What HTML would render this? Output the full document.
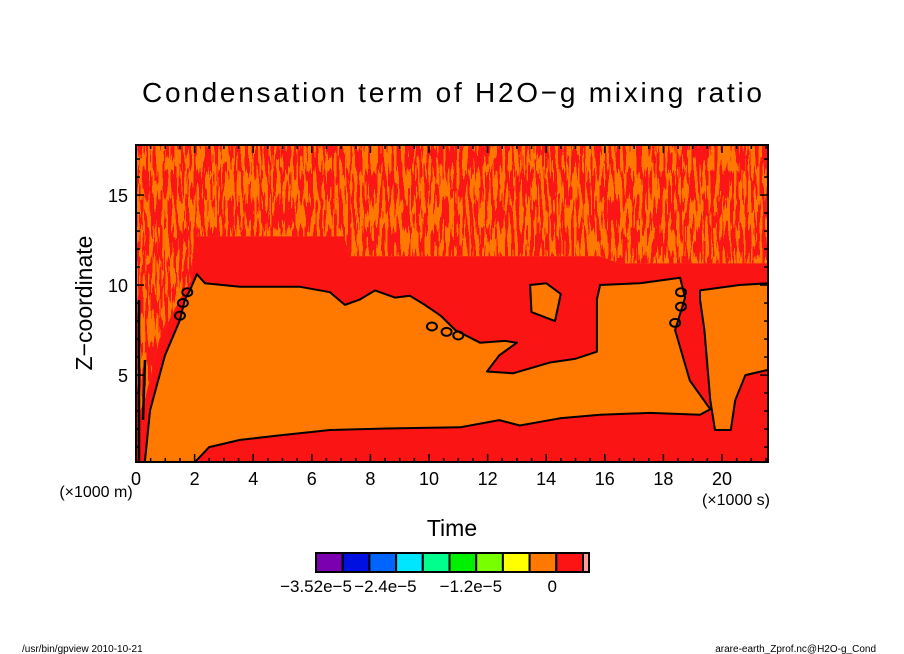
<!DOCTYPE html>
<html><head><meta charset="utf-8"><style>
html,body{margin:0;padding:0;background:#fff;}
svg{display:block;font-family:"Liberation Sans",sans-serif;}
</style></head><body>
<svg id="chart" width="904" height="654" viewBox="0 0 904 654">
<defs>
<filter id="noise" x="0" y="0" width="100%" height="100%">
<feTurbulence type="fractalNoise" baseFrequency="0.35 0.035" numOctaves="2" seed="7" result="t"/>
<feColorMatrix in="t" type="matrix" values="0 0 0 0 0  0 0 0 0 0  0 0 0 0 0  1.6 0 0 0 -0.3" result="a"/>
<feComponentTransfer in="a" result="d"><feFuncA type="discrete" tableValues="0 1"/></feComponentTransfer>
<feFlood flood-color="#fa1414" result="r"/>
<feComposite in="r" in2="d" operator="in"/>
</filter>
<clipPath id="plotclip"><rect x="136" y="145" width="632" height="317"/></clipPath>
</defs>
<text x="452" y="102" font-size="28" text-anchor="middle" textLength="620">Condensation term of H2O−g mixing ratio</text>
<g id="plot" clip-path="url(#plotclip)"></g>
<rect x="136" y="145" width="632" height="317" fill="none" stroke="#000" stroke-width="2"/>
<g id="axes"></g>
<text x="96" y="497" font-size="16" text-anchor="middle">(×1000 m)</text>
<text x="736" y="505" font-size="16" text-anchor="middle">(×1000 s)</text>
<text x="452" y="536" font-size="23" text-anchor="middle">Time</text>
<text x="0" y="0" font-size="23" text-anchor="middle" transform="translate(92,303) rotate(-90)">Z−coordinate</text>
<g id="colorbar"></g>
<text x="22" y="652" font-size="10">/usr/bin/gpview   2010-10-21</text>
<text x="876" y="652" font-size="10" text-anchor="end">arare-earth_Zprof.nc@H2O-g_Cond</text>
</svg>
<script>
const xTicks=[0,2,4,6,8,10,12,14,16,18,20];
const yTicks=[5,10,15];
const cbColors=["#7a00b0","#0010e0","#0064ff","#00e6ff","#00ff8c","#00f000","#78ff00","#ffff00","#ff7800","#fa1414","#ff9a9a"];
const cbLabels=["−3.52e−5","−2.4e−5","−1.2e−5","0"];
const cbLabelIdx=[0,2.6,5.8,8.85];
// contour regions in data units [time(x1000 s), z(x1000 m)]
const noiseRegion=[[0,17.8],[21.6,17.8],[21.6,11.2],[16.5,11.2],[15.8,11.6],[7.3,11.6],[7.1,12.7],[1.98,12.7],[1.9,10.3],[1.5,9.2],[0.8,7],[0.3,3.6],[0,2.5]];
const orangeMain=[[1.84,9.7],[2.08,10.6],[2.35,10.1],[3.55,9.9],[5.6,9.9],[6.62,9.6],[7.13,8.9],[7.65,9.2],[8.16,9.7],[8.84,9.3],[9.35,9.4],[9.86,8.9],[10.4,8.3],[10.9,7.5],[11.74,6.8],[12.6,6.9],[13.0,6.8],[12.4,6.1],[11.98,5.2],[12.87,5.1],[14.13,5.7],[14.98,5.9],[15.73,6.3],[15.73,9.2],[15.84,10.0],[17.2,10.1],[18.57,10.4],[18.74,9.3],[18.4,7.5],[18.9,4.7],[19.6,3.1],[19.25,2.8],[17.54,2.9],[15.84,2.8],[14.47,2.6],[13.1,2.2],[12.4,2.5],[11.06,2.1],[9.0,2.05],[6.62,1.95],[4.9,1.65],[3.55,1.4],[2.5,1.0],[2.0,0.15],[0.3,0.15],[0.48,3.05],[0.99,6.1],[1.5,8.05],[1.67,9.2]];
const orangeRight=[[19.25,9.7],[20.6,10.0],[21.6,10.1],[21.6,5.3],[20.8,5.0],[20.45,3.6],[20.3,1.95],[19.76,1.95],[19.6,3.6],[19.4,7.5],[19.25,9.2]];
const orangeIsland=[[13.45,10.0],[14.0,10.1],[14.5,9.5],[14.3,8.0],[13.5,8.5]];
const ovals=[[1.75,9.6],[1.6,9.0],[1.5,8.3],[10.1,7.7],[10.6,7.4],[11.0,7.2],[18.6,9.6],[18.6,8.8],[18.4,7.9]];

const NS="http://www.w3.org/2000/svg";
const X0=136,X1=768,Y0=462,Y1=145,TMAX=21.57,ZMIN=0.17,ZMAX=17.78;
function sx(t){return X0+(t/TMAX)*(X1-X0);}
function sy(z){return Y0-((z-ZMIN)/(ZMAX-ZMIN))*(Y0-Y1);}
function mk(tag,attrs,parent){const e=document.createElementNS(NS,tag);for(const k in attrs)e.setAttribute(k,attrs[k]);parent.appendChild(e);return e;}
function pts(arr){return arr.map(p=>sx(p[0]).toFixed(1)+","+sy(p[1]).toFixed(1)).join(" ");}
const plot=document.getElementById("plot");
let bg=mk("rect",{x:X0,y:Y1,width:X1-X0,height:Y0-Y1,fill:"#fa1414"},plot);


const cp=mk("clipPath",{id:"noiseclip"},plot);
mk("polygon",{points:pts(noiseRegion)},cp);
const ng=mk("g",{"clip-path":"url(#noiseclip)"},plot);


mk("rect",{x:X0,y:Y1,width:X1-X0,height:Y0-Y1,fill:"#ff7800"},ng);
mk("rect",{x:X0,y:Y1,width:X1-X0,height:Y0-Y1,filter:"url(#noise)"},ng);
[[orangeMain,'orange-main-region'],[orangeRight,'orange-right-region'],[orangeIsland,'orange-island']].forEach(([a,n])=>{
 const p=mk("polygon",{points:pts(a),fill:"#ff7800",stroke:"#000","stroke-width":2,"stroke-linejoin":"round"},plot);
 
 
});
ovals.forEach(o=>{
 const e=mk("ellipse",{cx:sx(o[0]),cy:sy(o[1]),rx:5,ry:4,fill:"none",stroke:"#000","stroke-width":2},plot);
 
 
});
let ls=mk("path",{d:"M139,462 L139,300 M143,420 L145,360",stroke:"#000","stroke-width":2.5,fill:"none"},plot);



const ax=document.getElementById("axes");


for(let t=0;t<=21.5;t+=0.5){const L=(t%2===0)?8:4;mk("line",{x1:sx(t),y1:Y0,x2:sx(t),y2:Y0-L,stroke:"#000","stroke-width":1.5},ax);mk("line",{x1:sx(t),y1:Y1,x2:sx(t),y2:Y1+L,stroke:"#000","stroke-width":1.5},ax);}
for(let z=1;z<=17;z++){const L=(z%5===0)?8:4;mk("line",{x1:X0,y1:sy(z),x2:X0+L,y2:sy(z),stroke:"#000","stroke-width":1.5},ax);mk("line",{x1:X1,y1:sy(z),x2:X1-L,y2:sy(z),stroke:"#000","stroke-width":1.5},ax);}
xTicks.forEach(t=>{const e=mk("text",{x:sx(t),y:485,"font-size":18,"text-anchor":"middle"},ax);e.textContent=t;
 
 });
yTicks.forEach(z=>{const e=mk("text",{x:128,y:sy(z)+7,"font-size":18,"text-anchor":"end"},ax);e.textContent=z;
 
 });

const cb=document.getElementById("colorbar");
const CBX=316,CBW=26.7,CBY=553,CBH=19;
cbColors.forEach((c,i)=>{const w=i===10?6:CBW;const r=mk("rect",{x:CBX+i*CBW,y:CBY,width:w,height:CBH,fill:c,stroke:"#000","stroke-width":2},cb);
 
 });
cbLabels.forEach((l,i)=>{const e=mk("text",{x:CBX+cbLabelIdx[i]*CBW,y:592,"font-size":17,"text-anchor":"middle"},cb);e.textContent=l;
 
 });
</script>
</body></html>
